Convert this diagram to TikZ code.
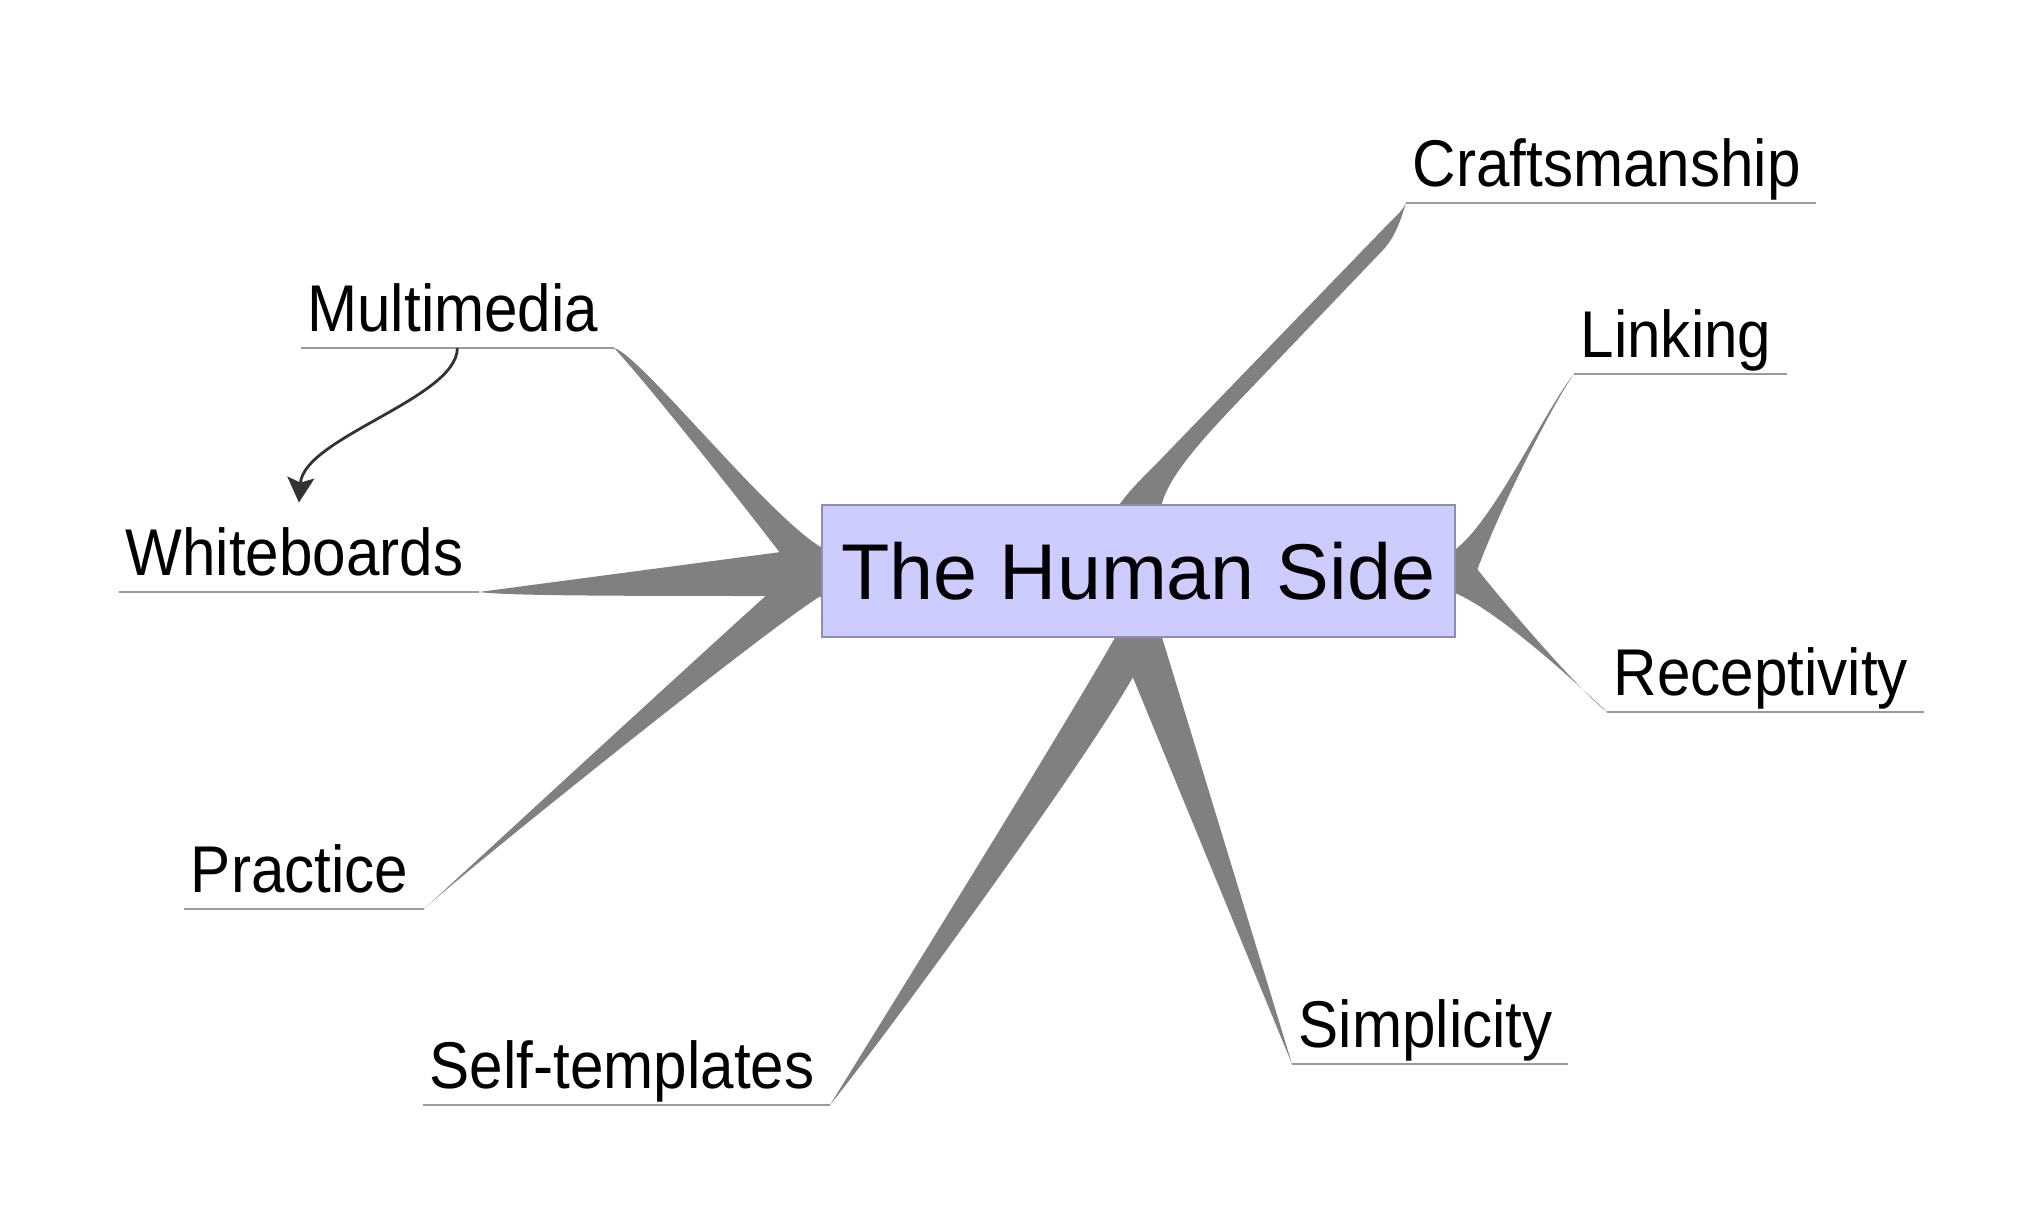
\documentclass[tikz,border=0pt]{standalone}
\usepackage{fontspec}
\setmainfont{Liberation Sans}
\newfontfamily\leaffont{Liberation Sans}[FakeStretch=0.91]
\usetikzlibrary{arrows.meta}
\definecolor{rootfill}{HTML}{CCCCFF}
\definecolor{rootline}{HTML}{8E8EA8}
\definecolor{branchgray}{HTML}{808080}
\definecolor{linegray}{HTML}{9A9A9A}
\definecolor{linkdark}{HTML}{333333}

\begin{document}
\begin{tikzpicture}[x=0.01cm, y=-0.01cm,
		root/.style={draw=rootline, line width=0.5pt, fill=rootfill, minimum width=6.33cm, minimum height=1.32cm, inner sep=0pt, font=\fontsize{22.5}{27}\selectfont},
		leaf/.style={inner xsep=0.06cm, inner ysep=0.16cm, text height=0.56cm, text depth=0pt, font=\leaffont\fontsize{18.8}{22}\selectfont, execute at end node={\hspace*{0.09cm}}},
		branch/.style={fill=branchgray},
		stem/.style={draw=linegray, line width=0.6pt}]
		\useasboundingbox (0,0) rectangle (2040,1227);

		% sub topics
		\node[leaf, anchor=south west] (craft) at (1406,203) {Craftsmanship};
		\node[leaf, anchor=south west] (link) at (1574,374) {Linking};
		\node[leaf, anchor=south west] (recep) at (1607,712) {Receptivity};
		\node[leaf, anchor=south west] (simpl) at (1292,1064) {Simplicity};
		\node[leaf, anchor=south east] (multi) at (614,348) {Multimedia};
		\node[leaf, anchor=south east] (white) at (479,592) {Whiteboards};
		\node[leaf, anchor=south east] (pract) at (424,909) {Practice};
		\node[leaf, anchor=south east] (selft) at (830,1105) {Self-templates};
		\foreach \n in {craft,link,recep,simpl,multi,white,pract,selft}
			\draw[stem] (\n.south west) -- (\n.south east);

		% branches
		\fill[branch] (1117,508) .. controls +(10,-15) and +(-20,20) .. (1160,460) -- (1390,222)
			.. controls +(8,-8) and +(-4,8) .. (craft.south west)
			.. controls +(-4,12) and +(14,-15) .. (1383,250) -- (1233,407)
			.. controls +(-40,42) and +(4,-25) .. (1161,508) -- cycle;
		\fill[branch] (1450,553) .. controls +(40,-23) and +(-29,35) .. (link.south west)
			.. controls +(-19,26) and +(25,-75) .. (1470,590) -- (1450,590) -- cycle;
		\fill[branch] (1450,591) .. controls +(40,14) and +(-42,-40) .. (recep.south west)
			.. controls +(-28,-22) and +(35,45) .. (1470,560) -- (1450,560) -- cycle;
		\fill[branch] (1161,634) -- (simpl.south west) -- (1115,634) -- cycle;
		\fill[branch] (1117,634) .. controls +(-57,101) and +(40,-65) .. (selft.south east)
			.. controls +(60,-75) and +(-53,93) .. (1133,677) -- (1145,640) -- cycle;
		\fill[branch] (770,592) .. controls +(-70,63) and +(26,-24) .. (pract.south east)
			.. controls +(36,-34) and +(-36,17) .. (826,593) -- cycle;
		\fill[branch] (white.south east) -- (826,546) -- (826,597) -- (765,596)
			.. controls (560,596) and (505,595) .. (white.south east) -- cycle;
		\fill[branch] (multi.south east) .. controls +(26,6) and +(-51,-25) .. (826,550)
			-- (826,580) -- (790,566) .. controls +(-50,-66) and +(26,27) .. (multi.south east) -- cycle;

		% central topic
		\node[root] (root) at (1138.5,571) {The Human Side};

		% cross link
		\draw[linkdark, line width=0.8pt, -{Stealth[length=0.25cm, width=0.27cm, inset=0.05cm]}]
			(multi.south) .. controls +(0,50) and +(5,-65) .. (white.north);
	\end{tikzpicture}
\end{document}
